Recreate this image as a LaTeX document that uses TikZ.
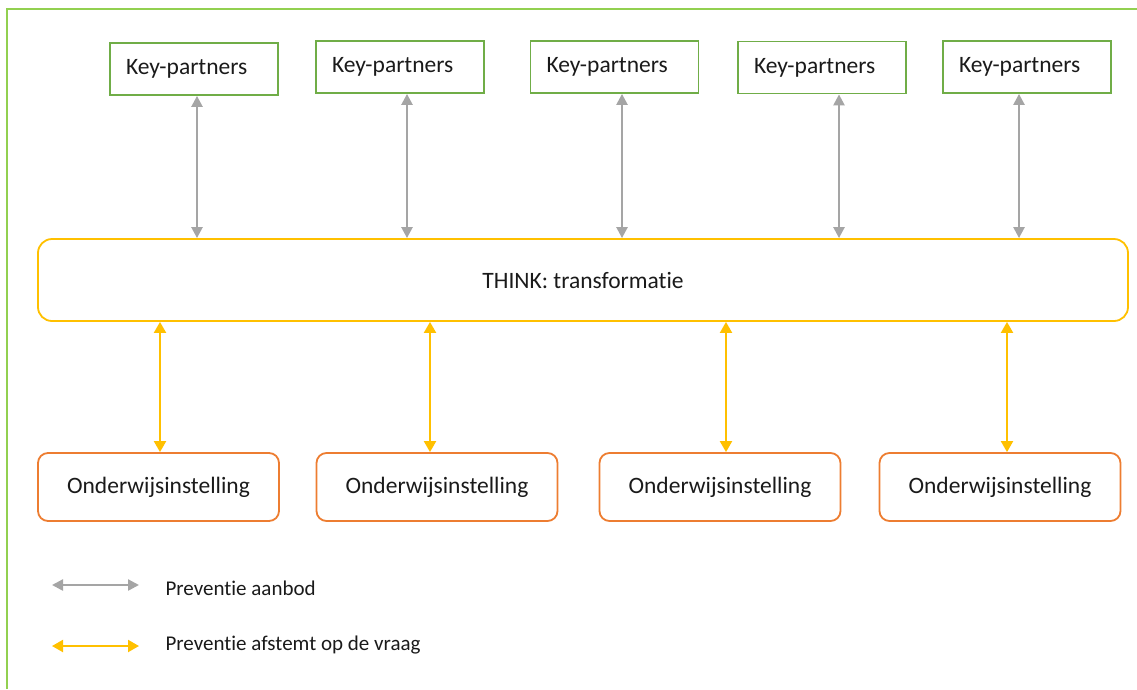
\documentclass[tikz,border=0pt]{standalone}
\usepackage{fontspec}
\setmainfont{Carlito}[RawFeature={-liga;-clig;-calt;-dlig;-hlig}]
\usetikzlibrary{arrows.meta}
\definecolor{framegreen}{HTML}{92D050}
\definecolor{kpgreen}{HTML}{70AD47}
\definecolor{thinkyellow}{HTML}{FFC000}
\definecolor{eduorange}{HTML}{ED7D31}
\definecolor{offergray}{HTML}{A5A5A5}
\definecolor{txt}{HTML}{1A1A1A}
\tikzset{
  kpbox/.style={draw=kpgreen, line width=1.8pt, minimum height=52pt,
    text width=136pt, inner xsep=16pt, align=left, text=txt,
    font=\fontsize{23.5}{28}\selectfont},
  thinkbox/.style={draw=thinkyellow, line width=1.8pt, rounded corners=14pt,
    minimum width=1090pt, minimum height=82pt, text=txt,
    font=\fontsize{23.5}{28}\selectfont},
  edubox/.style={draw=eduorange, line width=1.8pt, rounded corners=10pt,
    minimum width=241pt, minimum height=68pt, text=txt,
    font=\fontsize{23.5}{28}\selectfont},
  offerarrow/.style={draw=offergray, line width=2.4pt,
    {Triangle[width=11pt,length=11pt]}-{Triangle[width=11pt,length=11pt]}},
  demandarrow/.style={draw=thinkyellow, line width=2pt,
    {Triangle[width=12pt,length=11pt]}-{Triangle[width=12pt,length=11pt]}},
  legendtext/.style={anchor=west, text=txt, font=\fontsize{21}{25}\selectfont},
  frameline/.style={draw=framegreen, line width=2.4pt}
}
\begin{document}
\begin{tikzpicture}[x=1pt,y=-1pt]
\useasboundingbox (0,0) rectangle (1137,689);
% outer frame
\coordinate (fbl) at (7,689);
\coordinate (ftl) at (7,9);
\coordinate (ftr) at (1137,9);
\draw[frameline] (fbl) -- (ftl) -- (ftr);

% key partners
\node[kpbox] (k1) at (194,69) {Key-partners};
\node[kpbox] (k2) at (400,67) {Key-partners};
\node[kpbox] (k3) at (614.5,67) {Key-partners};
\node[kpbox] (k4) at (822,67.5) {Key-partners};
\node[kpbox] (k5) at (1027,67) {Key-partners};

% central transformation box
\node[thinkbox] (think) at (583,280) {THINK: transformatie};

% educational institutions
\node[edubox] (o1) at (158.5,487) {Onderwijsinstelling};
\node[edubox] (o2) at (437,487) {Onderwijsinstelling};
\node[edubox] (o3) at (720,487) {Onderwijsinstelling};
\node[edubox] (o4) at (1000,487) {Onderwijsinstelling};

% supply connectors
\draw[offerarrow] ([xshift=3pt]k1.south) -- ([xshift=3pt]k1.south |- think.north);
\draw[offerarrow] ([xshift=7pt]k2.south) -- ([xshift=7pt]k2.south |- think.north);
\draw[offerarrow] ([xshift=7.5pt]k3.south) -- ([xshift=7.5pt]k3.south |- think.north);
\draw[offerarrow] ([xshift=17pt]k4.south) -- ([xshift=17pt]k4.south |- think.north);
\draw[offerarrow] ([xshift=-8pt]k5.south) -- ([xshift=-8pt]k5.south |- think.north);

% demand connectors
\draw[demandarrow] ([xshift=1.5pt]o1.north) -- ([xshift=1.5pt]o1.north |- think.south);
\draw[demandarrow] ([xshift=-7pt]o2.north) -- ([xshift=-7pt]o2.north |- think.south);
\draw[demandarrow] ([xshift=6pt]o3.north) -- ([xshift=6pt]o3.north |- think.south);
\draw[demandarrow] ([xshift=7pt]o4.north) -- ([xshift=7pt]o4.north |- think.south);

% legend
\coordinate (l1a) at (52,585);
\coordinate (l1b) at (139,585);
\coordinate (l2a) at (52,646);
\coordinate (l2b) at (139,646);
\draw[offerarrow] (l1a) -- (l1b);
\draw[demandarrow] (l2a) -- (l2b);
\node[legendtext] (t1) at (162,588) {Preventie aanbod};
\node[legendtext] (t2) at (162,645) {Preventie afstemt op de vraag};
\end{tikzpicture}
\end{document}
